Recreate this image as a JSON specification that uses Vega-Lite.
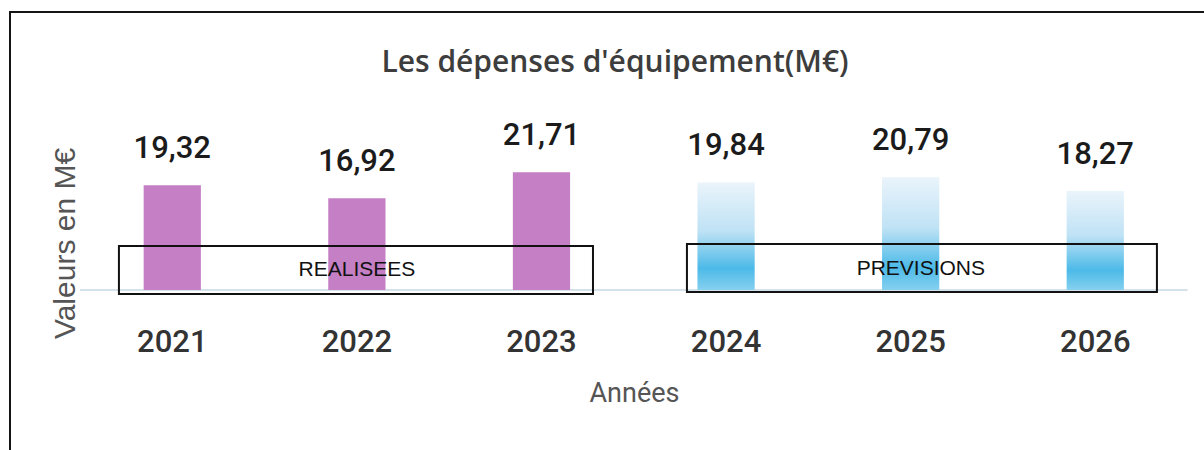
{
  "$schema": "https://vega.github.io/schema/vega-lite/v6.json",
  "width": 1198,
  "height": 442,
  "autosize": {"type": "none"},
  "padding": {"left": 10, "top": 12, "right": -4, "bottom": -4},
  "background": "#ffffff",
  "title": {
    "text": "Les dépenses d'équipement(M€)",
    "font": "Open Sans",
    "fontSize": 30,
    "fontWeight": 600,
    "color": "#3d3d3d",
    "anchor": "middle",
    "baseline": "alphabetic",
    "offset": -90,
    "dx": 6
  },
  "datasets": {
    "depenses": [
      {"annee": "2021", "valeur": 19.32, "statut": "Réalisées"},
      {"annee": "2022", "valeur": 16.92, "statut": "Réalisées"},
      {"annee": "2023", "valeur": 21.71, "statut": "Réalisées"},
      {"annee": "2024", "valeur": 19.84, "statut": "Prévisions"},
      {"annee": "2025", "valeur": 20.79, "statut": "Prévisions"},
      {"annee": "2026", "valeur": 18.27, "statut": "Prévisions"}
    ]
  },
  "layer": [
    {
      "data": {"values": [{"debut": "2021", "fin": "2026"}]},
      "mark": {"type": "rule", "color": "#c6d8e4", "strokeWidth": 1.5},
      "encoding": {
        "x": {"field": "debut", "type": "nominal", "bandPosition": 0, "title": "Années",
              "scale": {"domain": ["2021", "2022", "2023", "2024", "2025", "2026"], "paddingInner": 0, "paddingOuter": 0.2449, "align": 0.774}},
        "x2": {"field": "fin", "bandPosition": 1},
        "y": {"datum": 0, "type": "quantitative", "title": "Valeurs en M€",
              "scale": {"domain": [-30.26, 51.29], "nice": false, "zero": false}}
      }
    },
    {
      "data": {"name": "depenses"},
      "transform": [{"filter": "datum.statut === 'Réalisées'"}],
      "mark": {"type": "bar", "color": "#c57fc5", "width": {"band": 0.31}},
      "encoding": {
        "x": {"field": "annee", "type": "nominal", "title": "Années",
              "scale": {"domain": ["2021", "2022", "2023", "2024", "2025", "2026"], "paddingInner": 0, "paddingOuter": 0.2449, "align": 0.774}},
        "y": {"field": "valeur", "type": "quantitative", "title": "Valeurs en M€",
              "scale": {"domain": [-30.26, 51.29], "nice": false, "zero": false}}
      }
    },
    {
      "data": {"name": "depenses"},
      "transform": [{"filter": "datum.statut === 'Prévisions'"}],
      "mark": {
        "type": "bar",
        "width": {"band": 0.31},
        "fill": {
          "gradient": "linear", "x1": 0, "y1": 0, "x2": 0, "y2": 1,
          "stops": [
            {"offset": 0, "color": "#eaf4fb"},
            {"offset": 0.45, "color": "#bfe2f5"},
            {"offset": 0.8, "color": "#4cbae8"},
            {"offset": 1, "color": "#86d0ef"}
          ]
        }
      },
      "encoding": {
        "x": {"field": "annee", "type": "nominal", "title": "Années",
              "scale": {"domain": ["2021", "2022", "2023", "2024", "2025", "2026"], "paddingInner": 0, "paddingOuter": 0.2449, "align": 0.774}},
        "y": {"field": "valeur", "type": "quantitative", "title": "Valeurs en M€",
              "scale": {"domain": [-30.26, 51.29], "nice": false, "zero": false}}
      }
    },
    {
      "data": {"name": "depenses"},
      "mark": {"type": "text", "font": "Liberation Sans Narrow, Roboto", "fontSize": 31, "fontWeight": 500, "color": "#1b1b1b", "baseline": "alphabetic", "dy": -27},
      "encoding": {
        "x": {"field": "annee", "type": "nominal", "title": "Années",
              "scale": {"domain": ["2021", "2022", "2023", "2024", "2025", "2026"], "paddingInner": 0, "paddingOuter": 0.2449, "align": 0.774}},
        "y": {"field": "valeur", "type": "quantitative", "title": "Valeurs en M€",
              "scale": {"domain": [-30.26, 51.29], "nice": false, "zero": false}},
        "text": {"field": "valeur", "type": "quantitative", "format": ".2f"}
      }
    },
    {
      "data": {"values": [{"libelle": "REALISEES"}]},
      "mark": {"type": "rect", "filled": false, "stroke": "#111111", "strokeWidth": 2},
      "encoding": {
        "x": {"datum": "2021", "type": "nominal", "bandPosition": 0.211, "title": "Années",
              "scale": {"domain": ["2021", "2022", "2023", "2024", "2025", "2026"], "paddingInner": 0, "paddingOuter": 0.2449, "align": 0.774}},
        "x2": {"datum": "2023", "bandPosition": 0.779},
        "y": {"datum": -0.74, "type": "quantitative", "title": "Valeurs en M€",
              "scale": {"domain": [-30.26, 51.29], "nice": false, "zero": false}},
        "y2": {"datum": 8.12}
      }
    },
    {
      "data": {"values": [{"libelle": "REALISEES"}]},
      "mark": {"type": "text", "font": "Liberation Sans", "fontSize": 21, "color": "#111111", "baseline": "middle"},
      "encoding": {
        "x": {"datum": "2022", "type": "nominal", "title": "Années",
              "scale": {"domain": ["2021", "2022", "2023", "2024", "2025", "2026"], "paddingInner": 0, "paddingOuter": 0.2449, "align": 0.774}},
        "y": {"datum": 3.7, "type": "quantitative", "title": "Valeurs en M€",
              "scale": {"domain": [-30.26, 51.29], "nice": false, "zero": false}},
        "text": {"field": "libelle", "type": "nominal"}
      }
    },
    {
      "data": {"values": [{"libelle": "PREVISIONS"}]},
      "mark": {"type": "rect", "filled": false, "stroke": "#111111", "strokeWidth": 2},
      "encoding": {
        "x": {"datum": "2024", "type": "nominal", "bandPosition": 0.288, "title": "Années",
              "scale": {"domain": ["2021", "2022", "2023", "2024", "2025", "2026"], "paddingInner": 0, "paddingOuter": 0.2449, "align": 0.774}},
        "x2": {"datum": "2026", "bandPosition": 0.834},
        "y": {"datum": -0.37, "type": "quantitative", "title": "Valeurs en M€",
              "scale": {"domain": [-30.26, 51.29], "nice": false, "zero": false}},
        "y2": {"datum": 8.49}
      }
    },
    {
      "data": {"values": [{"libelle": "PREVISIONS"}]},
      "mark": {"type": "text", "font": "Liberation Sans", "fontSize": 21, "color": "#111111", "baseline": "middle"},
      "encoding": {
        "x": {"datum": "2025", "type": "nominal", "bandPosition": 0.555, "title": "Années",
              "scale": {"domain": ["2021", "2022", "2023", "2024", "2025", "2026"], "paddingInner": 0, "paddingOuter": 0.2449, "align": 0.774}},
        "y": {"datum": 3.9, "type": "quantitative", "title": "Valeurs en M€",
              "scale": {"domain": [-30.26, 51.29], "nice": false, "zero": false}},
        "text": {"field": "libelle", "type": "nominal"}
      }
    }
  ],
  "config": {
    "locale": {"number": {"decimal": ",", "thousands": "\u00a0", "grouping": [3], "currency": ["", "\u00a0€"]}},
    "view": {"stroke": "#151515", "strokeWidth": 2},
    "axisX": {
      "offset": -164,
      "domain": false,
      "ticks": false,
      "grid": false,
      "labelAngle": 0,
      "labelPadding": 37,
      "labelFont": "Liberation Sans Narrow, Roboto",
      "labelFontSize": 31,
      "labelFontWeight": 500,
      "labelColor": "#333333",
      "titleFont": "Liberation Sans Narrow, Roboto",
      "titleFontSize": 27,
      "titleFontWeight": "normal",
      "titleColor": "#555555",
      "titlePadding": 23,
      "titleX": 624
    },
    "axisY": {
      "offset": -70,
      "domain": false,
      "ticks": false,
      "labels": false,
      "grid": false,
      "titleFont": "Liberation Sans",
      "titleFontSize": 30,
      "titleFontWeight": "normal",
      "titleColor": "#555555",
      "titlePadding": 0,
      "titleY": 231
    }
  }
}
